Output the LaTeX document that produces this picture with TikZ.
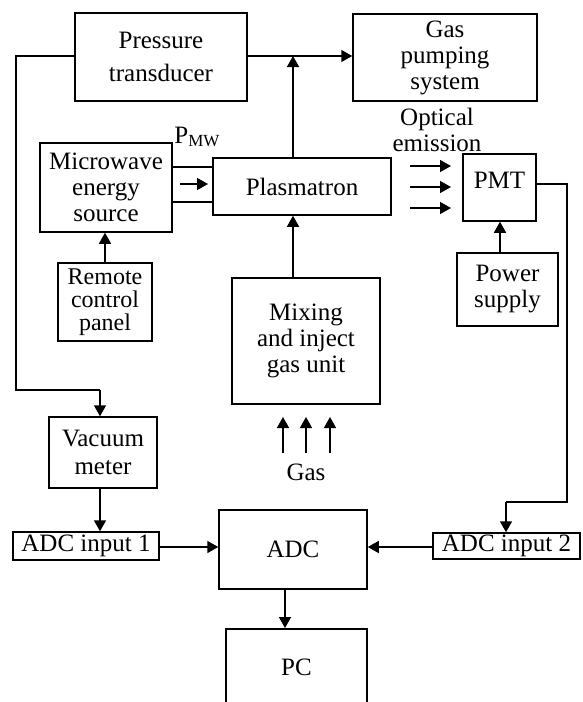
\documentclass[tikz,border=0pt]{standalone}
\usepackage{fontspec}
\setmainfont{Liberation Serif}
\usetikzlibrary{arrows.meta,calc}
\tikzset{
  box/.style={draw, line width=1.5pt, inner sep=0pt, align=center, font=\fontsize{25}{26}\selectfont},
  lbl/.style={inner sep=0pt, align=center, font=\fontsize{25}{26}\selectfont},
  conn/.style={line width=1.5pt},
  arr/.style={line width=1.5pt, -{Triangle[length=11pt,width=12pt]}}
}
\begin{document}
\begin{tikzpicture}[x=1pt,y=-1pt]
\useasboundingbox (0,0) rectangle (582,702);
% boxes
\node[box, minimum width=172, minimum height=88, font=\fontsize{25}{33}\selectfont] (press) at (161,57) {Pressure\\transducer};
\node[box, minimum width=184, minimum height=87] (gaspump) at (445,57.5) {Gas\\pumping\\system};
\node[box, minimum width=132, minimum height=89] (mw) at (106,187.5) {Microwave\\energy\\source};
\node[box, minimum width=178, minimum height=57] (plasma) at (302,186.5) {Plasmatron};
\node[box, minimum width=73, minimum height=67, text depth=14pt] (pmt) at (499.5,187.5) {PMT};
\node[box, minimum width=101, minimum height=73] (power) at (507.5,289.5) {Power\\supply};
\node[box, minimum width=94, minimum height=78, font=\fontsize{24}{23}\selectfont] (remote) at (105,302) {Remote\\control\\panel};
\node[box, minimum width=148, minimum height=126] (mixing) at (306,341) {Mixing\\and inject\\gas unit};
\node[box, minimum width=108, minimum height=71, font=\fontsize{25}{28}\selectfont] (vacuum) at (103,452.5) {Vacuum\\meter};
\node[box, minimum width=146, minimum height=28] (adc1) at (86,546) {ADC input 1};
\node[box, minimum width=148, minimum height=79] (adc) at (293,549.5) {ADC};
\node[box, minimum width=147, minimum height=26] (adc2) at (506.5,546) {ADC input 2};
\node[box, minimum width=141, minimum height=150, anchor=north] (pc) at (296.5,628) {};
\node[lbl] (pctext) at (296.5,667) {PC};
% labels
\node[lbl] (pmw) at (197,137) {P\raisebox{-0.25ex}{\fontsize{17}{17}\selectfont MW}};
\node[lbl] (optical) at (437,130) {Optical\\emission};
\node[lbl] (gas) at (306,472) {Gas};
% coordinates
\coordinate (j1) at (293,56);
\coordinate (c1) at (16,390);
\coordinate (c2) at (100,390);
\coordinate (c3) at (567,502);
\coordinate (c4) at (506,502);
% connectors
\draw[conn] (press.west |- j1) -| (c1) -- (c2);
\draw[arr] (c2) -- (c2 |- vacuum.north);
\draw[arr] (press.east |- j1) -- (gaspump.west |- j1);
\draw[arr] (j1 |- plasma.north) -- (j1);
\draw[conn] (mw.east |- 0,167) -- (plasma.west |- 0,167);
\draw[conn] (mw.east |- 0,202) -- (plasma.west |- 0,202);
\coordinate (m1) at (180,184);
\coordinate (m2) at (208,184);
\draw[arr] (m1) -- (m2);
\draw[arr] (105,0 |- remote.north) -- (105,0 |- mw.south);
\draw[arr] (293,0 |- mixing.north) -- (293,0 |- plasma.south);
\foreach \yy in {166,187,208} {
  \coordinate (o1) at (410,\yy);
  \coordinate (o2) at (451,\yy);
  \draw[arr] (o1) -- (o2);
}
\draw[arr] (500,0 |- power.north) -- (500,0 |- pmt.south);
\draw[conn] (pmt.east |- 0,184) -- (567,184) -- (c3) -- (c4);
\draw[arr] (c4) -- (c4 |- adc2.north);
\draw[arr] (100,0 |- vacuum.south) -- (100,0 |- adc1.north);
\draw[arr] (adc1.east |- 0,547) -- (adc.west |- 0,547);
\draw[arr] (adc2.west |- 0,547) -- (adc.east |- 0,547);
\draw[arr] (285,0 |- adc.south) -- (285,0 |- pc.north);
\foreach \xx in {283,306,330} {
  \coordinate (g1) at (\xx,453);
  \coordinate (g2) at (\xx,417);
  \draw[arr] (g1) -- (g2);
}
\end{tikzpicture}
\end{document}
